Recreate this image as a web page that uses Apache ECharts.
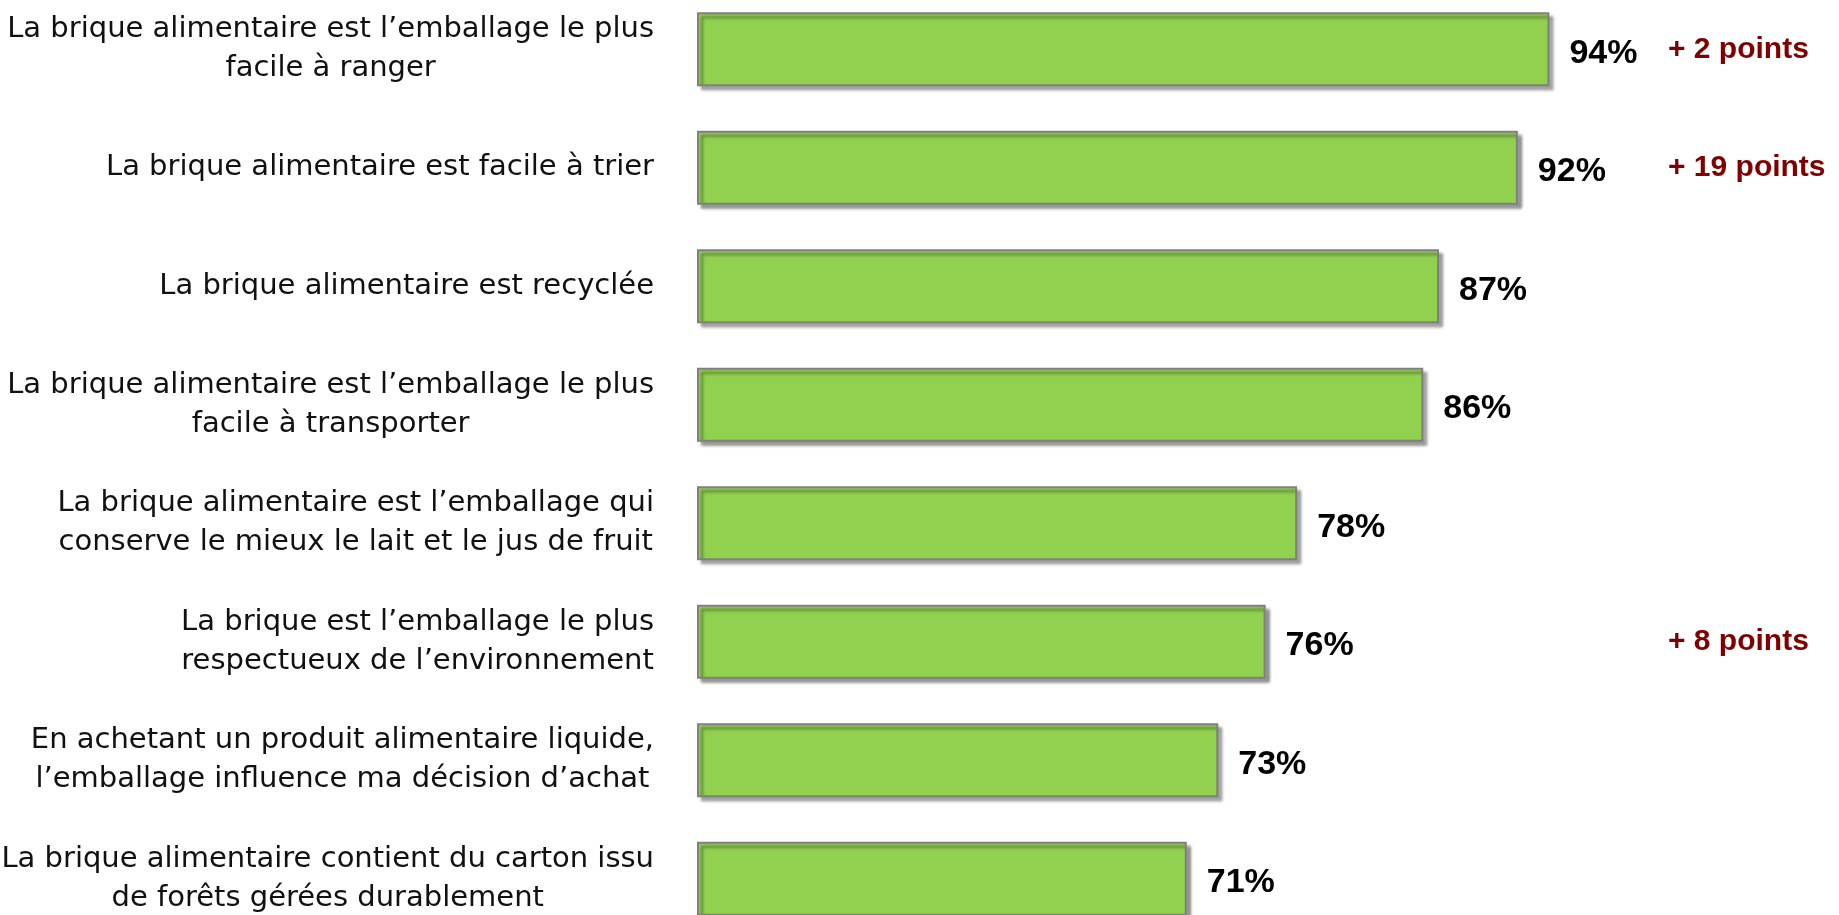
<!DOCTYPE html>
<html>
<head>
<meta charset="utf-8">
<script src="https://cdn.jsdelivr.net/npm/echarts@6/dist/echarts.min.js"></script>
<style>
html, body { margin: 0; padding: 0; background: #fff; }
#main { width: 1839px; height: 915px; }
</style>
</head>
<body>
<div id="main"></div>
<script>
// libellés des affirmations (de haut en bas)
var categories = [
    'La brique alimentaire est l\u2019emballage le plus\nfacile à ranger',
    'La brique alimentaire est facile à trier',
    'La brique alimentaire est recyclée',
    'La brique alimentaire est l\u2019emballage le plus\nfacile à transporter',
    'La brique alimentaire est l\u2019emballage qui\nconserve le mieux le lait et le jus de fruit',
    'La brique est l\u2019emballage le plus\nrespectueux de l\u2019environnement',
    'En achetant un produit alimentaire liquide,\nl\u2019emballage influence ma décision d\u2019achat',
    'La brique alimentaire contient du carton issu\nde forêts gérées durablement'
];
// % d'accord
var values = [94, 92, 87, 86, 78, 76, 73, 71];
// évolution en points (null = pas d'indication)
var deltas = [2, 19, null, null, null, 8, null, null];

var chart = echarts.init(document.getElementById('main'));

chart.setOption({
    animation: false,
    grid: {
        left: 698,
        right: 195,
        top: -10,
        bottom: -23,
        outerBoundsMode: 'none'
    },
    xAxis: {
        type: 'value',
        min: 40,
        max: 100,
        show: false
    },
    yAxis: [
        {
            type: 'category',
            inverse: true,
            data: categories,
            axisLine: { show: false },
            axisTick: { show: false },
            axisLabel: {
                margin: 44,
                formatter: function (v) {
                    return '{c|' + v + '}';
                },
                rich: {
                    c: {
                        align: 'center',
                        fontFamily: 'DejaVu Sans',
                        fontSize: 29,
                        lineHeight: 39,
                        color: '#111'
                    }
                }
            }
        },
        {
            //évolutions à droite
            type: 'category',
            inverse: true,
            position: 'right',
            data: categories,
            axisLine: { show: false },
            axisTick: { show: false },
            axisLabel: {
                margin: 24,
                align: 'left',
                fontFamily: 'Liberation Sans',
                fontSize: 30,
                fontWeight: 'bold',
                color: '#800000',
                formatter: function (v, i) {
                    return deltas[i] != null ? '+ ' + deltas[i] + ' points' : '';
                }
            }
        }
    ],
    series: [
        {
            type: 'bar',
            data: values,
            barWidth: 74,
            itemStyle: {
                color: '#92D050',
                borderColor: '#808080',
                borderWidth: 2,
                shadowColor: 'rgba(0,0,0,0.4)',
                shadowOffsetX: 4,
                shadowOffsetY: 4,
                shadowBlur: 3
            },
            label: {
                show: true,
                position: 'right',
                distance: 20,
                offset: [0, 4],
                formatter: '{c}%',
                fontFamily: 'Liberation Sans',
                fontSize: 34,
                fontWeight: 'bold',
                color: '#000'
            }
        }
    ]
});
</script>
</body>
</html>
